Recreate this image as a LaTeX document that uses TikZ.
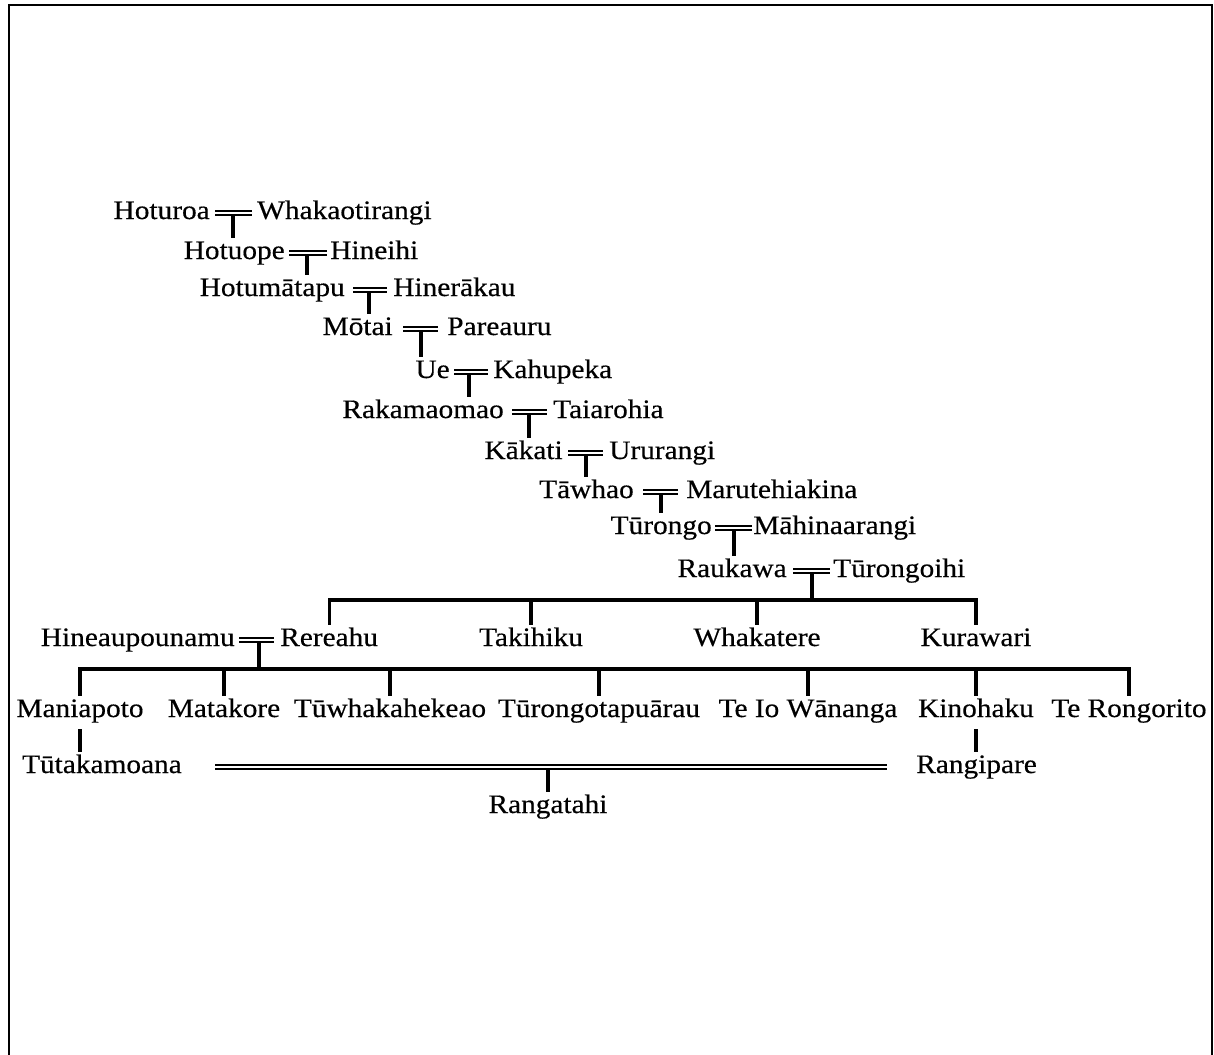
\documentclass[tikz,border=0pt]{standalone}
\usepackage{fontspec}
\setmainfont{Liberation Serif}[FakeStretch=1.1,FakeBold=0.4]

\tikzset{
  nm/.style={inner sep=0pt, text height=15.75pt, text depth=9pt, font=\fontsize{20}{24}\selectfont},
  marr/.style={double, line width=1.8pt, double distance=1.5pt},
  stem/.style={line width=2.4pt},
  bar/.style={line width=2.4pt},
}

\begin{document}
\begin{tikzpicture}[x=0.75pt,y=0.75pt,yscale=-1,xscale=1]
\useasboundingbox (0,0) rectangle (1214,1054);
%Shape: Frame
\draw [line width=2.2pt] (9,1060) -- (9,5) -- (1212,5) -- (1212,1060) ;

% Text Node
\draw (210,219) node [nm, anchor=base east] (hoturoa) {Hoturoa};
% Text Node
\draw (257,219) node [nm, anchor=base west] (whakaotirangi) {Whakaotirangi};
% Text Node
\draw (285,259) node [nm, anchor=base east] (hotuope) {Hotuope};
% Text Node
\draw (330,259) node [nm, anchor=base west] (hineihi) {Hineihi};
% Text Node
\draw (345,296) node [nm, anchor=base east] (hotumatapu) {Hotumātapu};
% Text Node
\draw (393,296) node [nm, anchor=base west] (hinerakau) {Hinerākau};
% Text Node
\draw (393,335) node [nm, anchor=base east] (motai) {Mōtai};
% Text Node
\draw (447,335) node [nm, anchor=base west] (pareauru) {Pareauru};
% Text Node
\draw (450,378) node [nm, anchor=base east] (ue) {Ue};
% Text Node
\draw (493,378) node [nm, anchor=base west] (kahupeka) {Kahupeka};
% Text Node
\draw (504,418) node [nm, anchor=base east] (rakamaomao) {Rakamaomao};
% Text Node
\draw (553,418) node [nm, anchor=base west] (taiarohia) {Taiarohia};
% Text Node
\draw (563,459) node [nm, anchor=base east] (kakati) {Kākati};
% Text Node
\draw (609,459) node [nm, anchor=base west] (ururangi) {Ururangi};
% Text Node
\draw (634,498) node [nm, anchor=base east] (tawhao) {Tāwhao};
% Text Node
\draw (686,498) node [nm, anchor=base west] (marutehiakina) {Marutehiakina};
% Text Node
\draw (712,534) node [nm, anchor=base east] (turongo) {Tūrongo};
% Text Node
\draw (753,534) node [nm, anchor=base west] (mahinaarangi) {Māhinaarangi};
% Text Node
\draw (787,577) node [nm, anchor=base east] (raukawa) {Raukawa};
% Text Node
\draw (833,577) node [nm, anchor=base west] (turongoihi) {Tūrongoihi};

% Text Node
\draw (235,646) node [nm, anchor=base east] (hineaupounamu) {Hineaupounamu};
% Text Node
\draw (280,646) node [nm, anchor=base west] (rereahu) {Rereahu};
% Text Node
\draw (531,646) node [nm, anchor=base] (takihiku) {Takihiku};
% Text Node
\draw (757,646) node [nm, anchor=base] (whakatere) {Whakatere};
% Text Node
\draw (976,646) node [nm, anchor=base] (kurawari) {Kurawari};

% Text Node
\draw (80,717) node [nm, anchor=base] (maniapoto) {Maniapoto};
% Text Node
\draw (224,717) node [nm, anchor=base] (matakore) {Matakore};
% Text Node
\draw (390,717) node [nm, anchor=base] (tuwhakahekeao) {Tūwhakahekeao};
% Text Node
\draw (599,717) node [nm, anchor=base] (turongotapuarau) {Tūrongotapuārau};
% Text Node
\draw (808,717) node [nm, anchor=base] (teiowananga) {Te Io Wānanga};
% Text Node
\draw (976,717) node [nm, anchor=base] (kinohaku) {Kinohaku};
% Text Node
\draw (1129,717) node [nm, anchor=base] (terongorito) {Te Rongorito};

% Text Node
\draw (182,773) node [nm, anchor=base east] (tutakamoana) {Tūtakamoana};
% Text Node
\draw (916,773) node [nm, anchor=base west] (rangipare) {Rangipare};
% Text Node
\draw (548,813) node [nm, anchor=base] (rangatahi) {Rangatahi};

% junctions under each couple
\coordinate (j1) at (233,213);
\coordinate (j2) at (307,253);
\coordinate (j3) at (369,290);
\coordinate (j4) at (421,329);
\coordinate (j5) at (469,372);
\coordinate (j6) at (529,412);
\coordinate (j7) at (586,453);
\coordinate (j8) at (661,492);
\coordinate (j9) at (734,528);
\coordinate (j10) at (812,571);
\coordinate (j11) at (259,640);
\coordinate (j13) at (548,767);
\coordinate (bar1) at (812,600);
\coordinate (bar2) at (259,669);

% descent lines (drawn first, the marriage lines sit on top)
\draw [stem] (j1) -- (j1 |- hotuope.north);
\draw [stem] (j2) -- (j2 |- hotumatapu.north);
\draw [stem] (j3) -- (j3 |- motai.north);
\draw [stem] (j4) -- (j4 |- ue.north);
\draw [stem] (j5) -- (j5 |- rakamaomao.north);
\draw [stem] (j6) -- (j6 |- kakati.north);
\draw [stem] (j7) -- (j7 |- tawhao.north);
\draw [stem] (j8) -- (j8 |- turongo.north);
\draw [stem] (j9) -- (j9 |- raukawa.north);
\draw [stem] (j10) -- (bar1);
\draw [stem] (j11) -- (bar2);
\draw [stem] (j13) -- (j13 |- rangatahi.north);
\draw [stem] (maniapoto.south) -- (maniapoto.south |- tutakamoana.north);
\draw [stem] (kinohaku.south) -- (rangipare.north -| kinohaku.south);

% children of Raukawa and Tūrongoihi
\draw [bar] (rereahu.north) |- (bar1) -| (kurawari.north);
\foreach \c in {takihiku,whakatere}
  \draw [bar] (\c.north) -- (\c.north |- bar1);

% children of Hineaupounamu and Rereahu
\draw [bar] (maniapoto.north) |- (bar2) -| (terongorito.north);
\foreach \c in {matakore,tuwhakahekeao,turongotapuarau,teiowananga,kinohaku}
  \draw [bar] (\c.north) -- (\c.north |- bar2);

% marriages
\draw [marr, shorten <=3.75pt, shorten >=3.75pt] (hoturoa.east |- j1) -- (whakaotirangi.west |- j1);
\draw [marr, shorten <=3pt, shorten >=2.25pt] (hotuope.east |- j2) -- (hineihi.west |- j2);
\draw [marr, shorten <=6pt, shorten >=4.5pt] (hotumatapu.east |- j3) -- (hinerakau.west |- j3);
\draw [marr, shorten <=7.5pt, shorten >=6.75pt] (motai.east |- j4) -- (pareauru.west |- j4);
\draw [marr, shorten <=3pt, shorten >=3.75pt] (ue.east |- j5) -- (kahupeka.west |- j5);
\draw [marr, shorten <=6pt, shorten >=4.5pt] (rakamaomao.east |- j6) -- (taiarohia.west |- j6);
\draw [marr, shorten <=3.75pt, shorten >=4.5pt] (kakati.east |- j7) -- (ururangi.west |- j7);
\draw [marr, shorten <=6.75pt, shorten >=6pt] (tawhao.east |- j8) -- (marutehiakina.west |- j8);
\draw [marr, shorten <=2.25pt, shorten >=0.75pt] (turongo.east |- j9) -- (mahinaarangi.west |- j9);
\draw [marr, shorten <=4.5pt, shorten >=2.25pt] (raukawa.east |- j10) -- (turongoihi.west |- j10);
\draw [marr, shorten <=3pt, shorten >=4.5pt] (hineaupounamu.east |- j11) -- (rereahu.west |- j11);
\draw [marr, shorten <=24.75pt, shorten >=21.75pt] (tutakamoana.east |- j13) -- (rangipare.west |- j13);

\end{tikzpicture}
\end{document}
